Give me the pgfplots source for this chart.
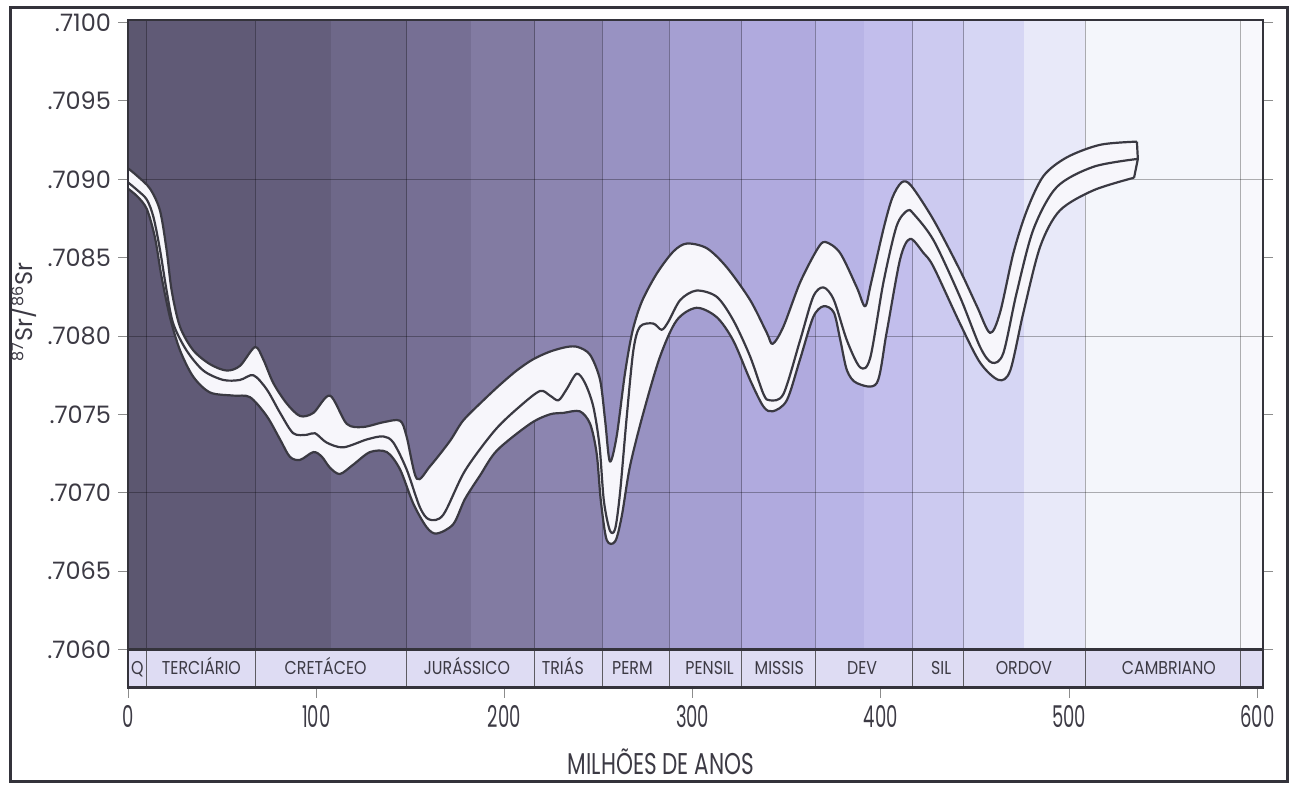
\documentclass[border=0pt]{standalone}
\usepackage{fontspec}
\setmainfont{Poppins}
\newfontfamily\condA[FakeStretch=0.85]{Poppins}
\newfontfamily\condB[FakeStretch=0.6]{Poppins}
\newfontfamily\condC[FakeStretch=0.72]{Poppins}
\usepackage{pgfplots}
\usepackage{pgfplotstable}
\pgfplotsset{compat=1.18}
\definecolor{framecol}{HTML}{34333B}
\definecolor{linecol}{HTML}{3A3942}
\definecolor{txtcol}{HTML}{3C3A44}
\definecolor{stripcol}{HTML}{DEDCF3}
\definecolor{bandcol}{HTML}{F7F6FB}
\definecolor{c1}{RGB}{92,87,112}
\definecolor{c2}{RGB}{96,90,118}
\definecolor{c3a}{RGB}{100,94,124}
\definecolor{c3b}{RGB}{110,104,137}
\definecolor{c4a}{RGB}{118,111,148}
\definecolor{c4b}{RGB}{130,123,162}
\definecolor{c5}{RGB}{140,133,176}
\definecolor{c6}{RGB}{152,146,194}
\definecolor{c7}{RGB}{165,159,210}
\definecolor{c8}{RGB}{176,170,222}
\definecolor{c9a}{RGB}{184,180,230}
\definecolor{c9b}{RGB}{194,190,236}
\definecolor{c10}{RGB}{204,202,240}
\definecolor{c11a}{RGB}{214,214,244}
\definecolor{c11b}{RGB}{232,233,249}
\definecolor{c12}{RGB}{244,246,251}
\definecolor{c13}{RGB}{248,248,252}

\pgfplotstableread{
X Y
0 0.70907
5 0.70902
11.7 0.70894
17 0.70880
20.5 0.70855
23.2 0.70829
27.6 0.70806
34.6 0.70791
43.6 0.70782
52.4 0.70778
59.5 0.70781
67.5 0.70793
71.9 0.70785
77.2 0.70770
84.3 0.70757
91.4 0.70749
98.5 0.70751
107.3 0.70762
116.2 0.70744
125 0.70742
135.6 0.70745
144.5 0.70746
148 0.70736
153.4 0.70709
160.5 0.70717
171 0.70733
178 0.70746
188.8 0.70759
197.7 0.70769
206.5 0.70778
215 0.70785
224 0.70790
233 0.70793
239 0.70793
245.5 0.70788
250.8 0.70772
253.5 0.70746
256 0.70720
259.6 0.70736
264 0.70776
268 0.70803
273 0.70822
281 0.70840
289.8 0.70854
296.9 0.70859
307.5 0.70856
318 0.70844
330.5 0.70823
339.4 0.70802
342.5 0.70795
348.2 0.70806
357 0.70834
366 0.70855
370.4 0.70860
378.3 0.70853
387.2 0.70831
391.6 0.70819
394.8 0.70834
401.3 0.70868
406 0.70888
411 0.70898
416 0.70896
428 0.70874
442 0.70842
451 0.70819
458 0.70802
463.3 0.70815
470.4 0.70853
477.5 0.70880
486.3 0.70902
498.8 0.70914
516.5 0.70922
536 0.70924
}\tabUp

\pgfplotstableread{
X Y
0 0.70898
5 0.70893
10 0.70887
13.5 0.70876
17 0.70855
20.5 0.70829
24 0.70808
31 0.70791
40 0.70778
50.6 0.70772
59.5 0.70772
66.6 0.70775
73.7 0.70766
80.8 0.70751
87.8 0.70738
95 0.70737
99.4 0.70738
105.6 0.70732
114.4 0.70729
126.8 0.70734
135.6 0.70736
141 0.70732
148 0.70715
155 0.70691
160 0.70683
167.5 0.70686
179 0.70714
195 0.70740
209 0.70756
219 0.70765
224.2 0.70762
228.7 0.70759
233 0.70766
238.4 0.70776
242.8 0.70770
247.2 0.70755
250.5 0.70730
252.8 0.70695
256 0.70676
258.8 0.70677
261.4 0.70700
265 0.70749
268.5 0.70791
272 0.70806
279 0.70808
283.5 0.70804
287 0.70809
293.4 0.70823
302 0.70829
312.8 0.70825
321.6 0.70810
330.5 0.70787
337.6 0.70763
341 0.70759
348.2 0.70763
357 0.70797
364 0.70825
369.5 0.70831
375 0.70823
382 0.70797
389 0.70780
394.3 0.70786
401.3 0.70834
408.3 0.70870
414 0.70880
417.3 0.70878
428 0.70861
442 0.70825
452.7 0.70793
459 0.70783
465 0.70789
472 0.70827
481 0.70868
493.4 0.70895
513 0.70908
536.5 0.70913
}\tabMid

\pgfplotstableread{
X Y
0 0.70894
5 0.70889
10 0.70881
14.3 0.70863
17.8 0.70838
22.3 0.70812
27.6 0.70791
34.7 0.70774
43.6 0.70764
56 0.70762
64.8 0.70761
73.7 0.70749
80.8 0.70734
86 0.70723
91.4 0.70721
98.5 0.70726
103 0.70723
107.3 0.70716
112.6 0.70712
119.7 0.70718
128.6 0.70726
137.5 0.70726
144.5 0.70715
151.6 0.70693
158.7 0.70678
164 0.70674
172.8 0.70680
179 0.70696
187 0.70711
196 0.70727
213.6 0.70744
224 0.70750
231.4 0.70751
240 0.70752
245.5 0.70744
249 0.70725
251.2 0.70695
254.3 0.70670
258.8 0.70669
262.3 0.70685
266.7 0.70717
273.8 0.70751
282.7 0.70787
291.5 0.70810
302 0.70818
312.8 0.70812
321.6 0.70797
330.5 0.70772
337.6 0.70755
342.6 0.70752
350 0.70759
357 0.70785
364 0.70812
369.5 0.70819
375 0.70815
378.5 0.70797
382 0.70778
387.2 0.70770
397.8 0.70770
403 0.70802
410.2 0.70849
415.5 0.70862
422.6 0.70853
428 0.70844
442 0.70808
452.7 0.70783
462.5 0.70772
468.7 0.70778
475.7 0.70815
484.6 0.70857
495 0.70880
513 0.70893
534.5 0.70901
}\tabLow

% band outline: upper curve forward, lower curve backward
\pgfplotstableread{
X Y
0 0.70907
5 0.70902
11.7 0.70894
17 0.70880
20.5 0.70855
23.2 0.70829
27.6 0.70806
34.6 0.70791
43.6 0.70782
52.4 0.70778
59.5 0.70781
67.5 0.70793
71.9 0.70785
77.2 0.70770
84.3 0.70757
91.4 0.70749
98.5 0.70751
107.3 0.70762
116.2 0.70744
125 0.70742
135.6 0.70745
144.5 0.70746
148 0.70736
153.4 0.70709
160.5 0.70717
171 0.70733
178 0.70746
188.8 0.70759
197.7 0.70769
206.5 0.70778
215 0.70785
224 0.70790
233 0.70793
239 0.70793
245.5 0.70788
250.8 0.70772
253.5 0.70746
256 0.70720
259.6 0.70736
264 0.70776
268 0.70803
273 0.70822
281 0.70840
289.8 0.70854
296.9 0.70859
307.5 0.70856
318 0.70844
330.5 0.70823
339.4 0.70802
342.5 0.70795
348.2 0.70806
357 0.70834
366 0.70855
370.4 0.70860
378.3 0.70853
387.2 0.70831
391.6 0.70819
394.8 0.70834
401.3 0.70868
406 0.70888
411 0.70898
416 0.70896
428 0.70874
442 0.70842
451 0.70819
458 0.70802
463.3 0.70815
470.4 0.70853
477.5 0.70880
486.3 0.70902
498.8 0.70914
516.5 0.70922
536 0.70924
536.5 0.70913
534.5 0.70901
513 0.70893
495 0.70880
484.6 0.70857
475.7 0.70815
468.7 0.70778
462.5 0.70772
452.7 0.70783
442 0.70808
428 0.70844
422.6 0.70853
415.5 0.70862
410.2 0.70849
403 0.70802
397.8 0.70770
387.2 0.70770
382 0.70778
378.5 0.70797
375 0.70815
369.5 0.70819
364 0.70812
357 0.70785
350 0.70759
342.6 0.70752
337.6 0.70755
330.5 0.70772
321.6 0.70797
312.8 0.70812
302 0.70818
291.5 0.70810
282.7 0.70787
273.8 0.70751
266.7 0.70717
262.3 0.70685
258.8 0.70669
254.3 0.70670
251.2 0.70695
249 0.70725
245.5 0.70744
240 0.70752
231.4 0.70751
224 0.70750
213.6 0.70744
196 0.70727
187 0.70711
179 0.70696
172.8 0.70680
164 0.70674
158.7 0.70678
151.6 0.70693
144.5 0.70715
137.5 0.70726
128.6 0.70726
119.7 0.70718
112.6 0.70712
107.3 0.70716
103 0.70723
98.5 0.70726
91.4 0.70721
86 0.70723
80.8 0.70734
73.7 0.70749
64.8 0.70761
56 0.70762
43.6 0.70764
34.7 0.70774
27.6 0.70791
22.3 0.70812
17.8 0.70838
14.3 0.70863
10 0.70881
5 0.70889
0 0.70894
}\tabBand

\begin{document}
\begin{tikzpicture}
\useasboundingbox (0,0) rectangle (647pt,393pt);
\begin{axis}[
  at={(64pt,49pt)}, anchor=south west,
  scale only axis, width=567.5pt, height=334pt,
  xmin=0, xmax=603, ymin=0.705755, ymax=0.710016,
  axis on top, clip=false,
  axis line style={line width=1.25pt, framecol},
  tick align=outside,
  major tick length=5pt,
  tick style={line width=0.45pt, black!45},
  xtick={0,100,200,300,400,500,600},
  xticklabels={0,100,200,300,400,500,600},
  xtick pos=bottom,
  ytick={0.7060,0.7065,0.7070,0.7075,0.7080,0.7085,0.7090,0.7095,0.7100},
  yticklabels={.7060,.7065,.7070,.7075,.7080,.7085,.7090,.7095,.7100},
  ytick pos=both, yticklabel pos=left,
  xticklabel style={font=\condB\fontsize{15}{15}\selectfont, text=txtcol},
  yticklabel style={font=\fontsize{12}{12}\selectfont, text=txtcol},
  curve/.style={linecol, line width=1.1pt, line join=round, smooth, tension=0.5},
  col/.style={fill=#1, draw=none},
  gridl/.style={black, opacity=0.3, line width=0.45pt},
]
% background columns (tints per period)
\addplot[col=c1] coordinates {(0,0.705755) (10,0.705755) (10,0.710016) (0,0.710016)};
\addplot[col=c2] coordinates {(10,0.705755) (67.5,0.705755) (67.5,0.710016) (10,0.710016)};
\addplot[col=c3a] coordinates {(67.5,0.705755) (108,0.705755) (108,0.710016) (67.5,0.710016)};
\addplot[col=c3b] coordinates {(108,0.705755) (148,0.705755) (148,0.710016) (108,0.710016)};
\addplot[col=c4a] coordinates {(148,0.705755) (182,0.705755) (182,0.710016) (148,0.710016)};
\addplot[col=c4b] coordinates {(182,0.705755) (216,0.705755) (216,0.710016) (182,0.710016)};
\addplot[col=c5] coordinates {(216,0.705755) (252,0.705755) (252,0.710016) (216,0.710016)};
\addplot[col=c6] coordinates {(252,0.705755) (287.5,0.705755) (287.5,0.710016) (252,0.710016)};
\addplot[col=c7] coordinates {(287.5,0.705755) (326,0.705755) (326,0.710016) (287.5,0.710016)};
\addplot[col=c8] coordinates {(326,0.705755) (365,0.705755) (365,0.710016) (326,0.710016)};
\addplot[col=c9a] coordinates {(365,0.705755) (391,0.705755) (391,0.710016) (365,0.710016)};
\addplot[col=c9b] coordinates {(391,0.705755) (417,0.705755) (417,0.710016) (391,0.710016)};
\addplot[col=c10] coordinates {(417,0.705755) (444,0.705755) (444,0.710016) (417,0.710016)};
\addplot[col=c11a] coordinates {(444,0.705755) (476,0.705755) (476,0.710016) (444,0.710016)};
\addplot[col=c11b] coordinates {(476,0.705755) (508.5,0.705755) (508.5,0.710016) (476,0.710016)};
\addplot[col=c12] coordinates {(508.5,0.705755) (591,0.705755) (591,0.710016) (508.5,0.710016)};
\addplot[col=c13] coordinates {(591,0.705755) (603,0.705755) (603,0.710016) (591,0.710016)};
% grid
\pgfplotsinvokeforeach{10,67.5,148,216,252,287.5,326,365,417,444,508.5,591}{
  \addplot[gridl] coordinates {(#1,0.7060) (#1,0.710016)};
}
\pgfplotsinvokeforeach{0.7070,0.7080,0.7090}{
  \addplot[gridl] coordinates {(0,#1) (603,#1)};
}
% period strip
\addplot[fill=stripcol, draw=none] coordinates {(0,0.705755) (603,0.705755) (603,0.7060) (0,0.7060)};
\pgfplotsinvokeforeach{10,67.5,148,216,252,287.5,326,365,417,444,508.5,591}{
  \addplot[framecol!80, line width=0.5pt] coordinates {(#1,0.705755) (#1,0.7060)};
}
\addplot[framecol, line width=1.5pt] coordinates {(0,0.7060) (603,0.7060)};
\addplot[framecol, line width=1.5pt] coordinates {(0,0.705755) (603,0.705755)};
% band
\addplot[fill=bandcol, draw=none, smooth, tension=0.5] table[x=X,y=Y]{\tabBand};
\addplot[curve] table[x=X,y=Y]{\tabUp};
\addplot[curve] table[x=X,y=Y]{\tabMid};
\addplot[curve] table[x=X,y=Y]{\tabLow};
\addplot[linecol, line width=1.1pt, line join=round] coordinates {(536,0.70924) (536.5,0.70913) (534.5,0.70901)};
% period names
\begin{scope}[every node/.style={font=\condA\fontsize{9.3}{9.3}\selectfont, text=txtcol, anchor=base}]
\node at (axis cs:5,0.70584) {Q};
\node at (axis cs:39,0.70584) {TERCIÁRIO};
\node at (axis cs:105,0.70584) {CRETÁCEO};
\node at (axis cs:180,0.70584) {JURÁSSICO};
\node at (axis cs:231,0.70584) {TRIÁS};
\node at (axis cs:268,0.70584) {PERM};
\node at (axis cs:309,0.70584) {PENSIL};
\node at (axis cs:346,0.70584) {MISSIS};
\node at (axis cs:390,0.70584) {DEV};
\node at (axis cs:432,0.70584) {SIL};
\node at (axis cs:476,0.70584) {ORDOV};
\node at (axis cs:553,0.70584) {CAMBRIANO};
\end{scope}
\end{axis}
\node[rotate=90, font=\fontsize{12}{12}\selectfont, text=txtcol] at (11.5pt,237pt) {\textsuperscript{87}Sr/\textsuperscript{86}Sr};
\node[font=\condC\fontsize{15}{15}\selectfont, text=txtcol, anchor=base, inner sep=0pt] at (330.5pt,5.5pt) {MILHÕES DE ANOS};
\draw[framecol, line width=1.5pt] (5pt,2pt) rectangle (643.5pt,389pt);
\end{tikzpicture}
\end{document}
